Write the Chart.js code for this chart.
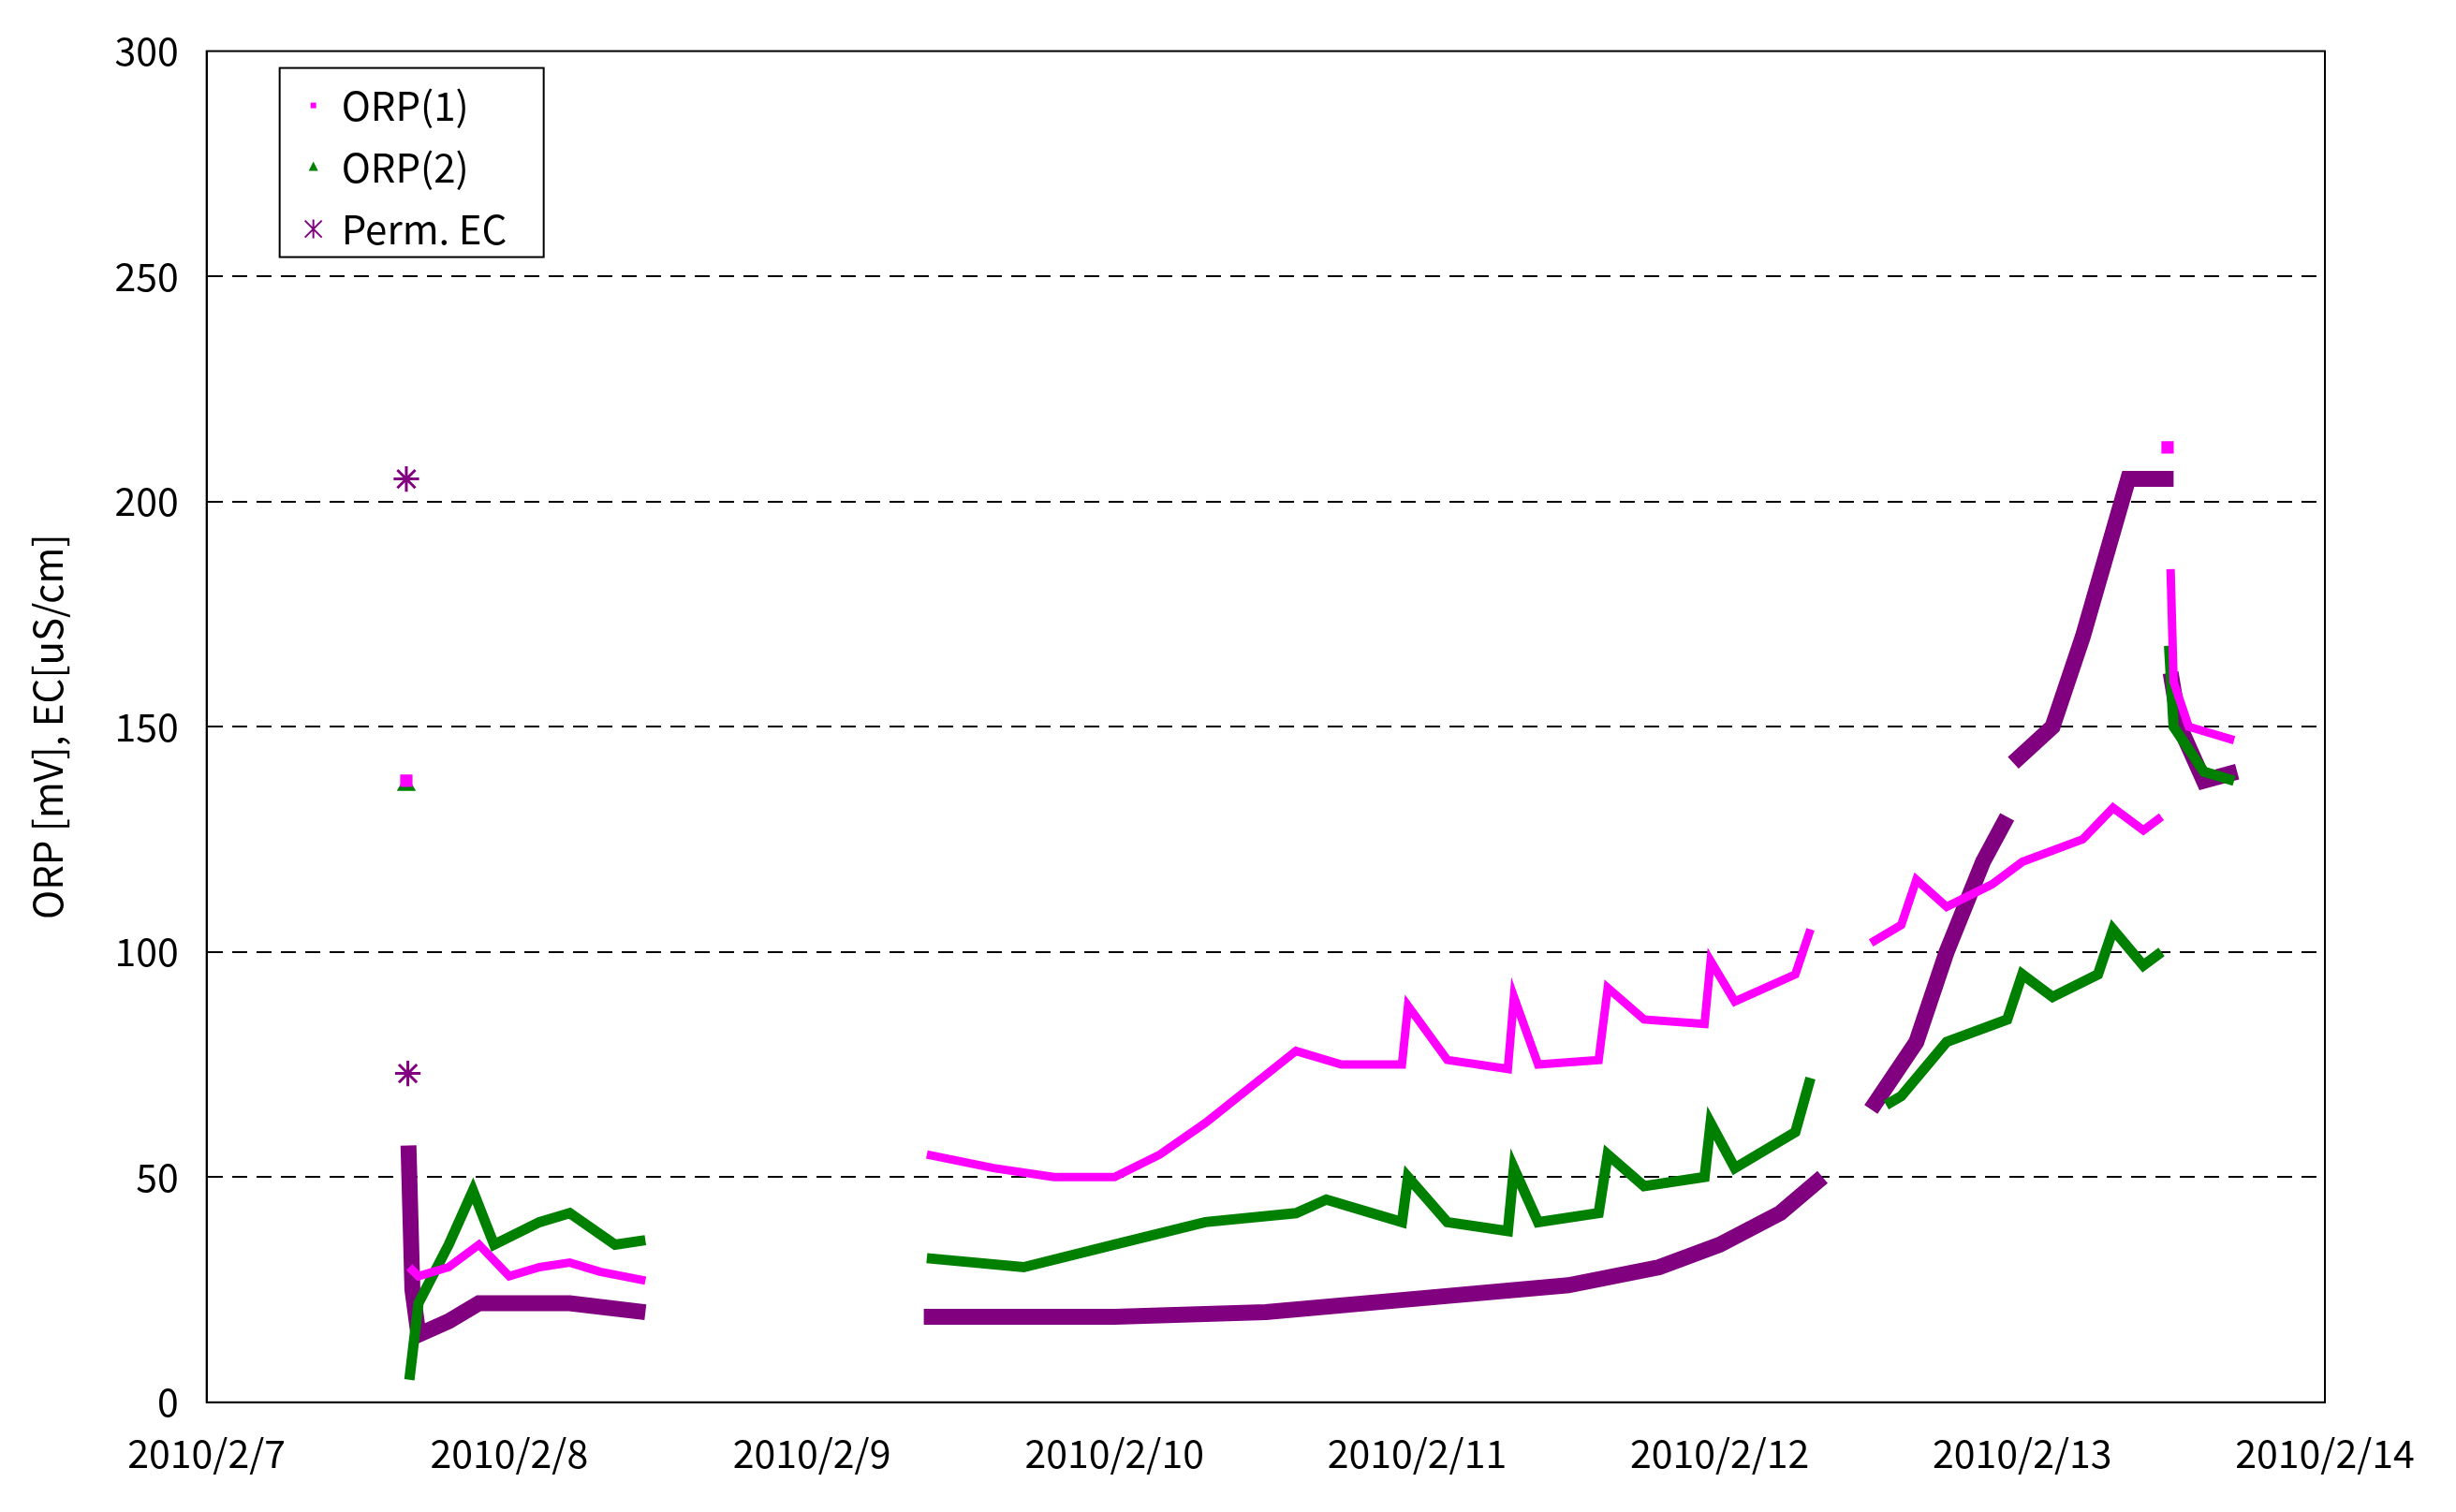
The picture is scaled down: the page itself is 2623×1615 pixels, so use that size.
<!DOCTYPE html>
<html><head><meta charset="utf-8">
<script src="https://cdn.jsdelivr.net/npm/chart.js@4"></script>
<style>html,body{margin:0;background:#fff}#c{width:2623px;height:1615px}</style>
</head><body>
<div id="c"><canvas id="chart"></canvas></div>
<script>
// x = days since 2010/2/7
const dayLabels = ["2010/2/7","2010/2/8","2010/2/9","2010/2/10","2010/2/11","2010/2/12","2010/2/13","2010/2/14"];

const orp1X = [0.66,null,0.67,0.7,0.8,0.9,1.0,1.1,1.2,1.3,1.45,null,
  2.38,2.6,2.8,3.0,3.15,3.3,3.45,3.6,3.75,3.95,3.97,4.1,4.3,4.32,4.4,4.6,4.63,4.75,4.95,4.97,5.05,5.25,5.3,null,
  5.5,5.6,5.65,5.75,5.9,6.0,6.2,6.3,6.4,6.46,null,6.48,null,6.49,6.5,6.55,6.7];
const orp1Y = [138,null,30,28,30,35,28,30,31,29,27,null,
  55,52,50,50,55,62,70,78,75,75,88,76,74,90,75,76,92,85,84,98,89,95,105,null,
  102,106,116,110,115,120,125,132,127,130,null,212,null,185,160,150,147];

const orp2X = [0.66,null,0.67,0.7,0.8,0.88,0.95,1.1,1.2,1.35,1.45,null,
  2.38,2.7,3.0,3.3,3.6,3.7,3.95,3.97,4.1,4.3,4.32,4.4,4.6,4.63,4.75,4.95,4.97,5.05,5.25,5.3,null,
  5.55,5.6,5.75,5.95,6.0,6.1,6.25,6.3,6.4,6.46,null,6.485,6.5,6.6,6.7];
const orp2Y = [137,null,5,22,35,47,35,40,42,35,36,null,
  32,30,35,40,42,45,40,50,40,38,52,40,42,55,48,50,62,52,60,72,null,
  66,68,80,85,95,90,95,105,97,100,null,168,150,140,138];

const ecX = [0.66,null,0.665,null,0.667,0.67,0.68,0.7,0.8,0.9,1.0,1.2,1.45,null,
  2.37,3.0,3.5,4.0,4.5,4.8,5.0,5.2,5.34,null,
  5.5,5.65,5.75,5.87,5.95,null,5.97,6.1,6.2,6.35,6.5,null,6.49,6.52,6.6,6.71];
const ecY = [205,null,73,null,57,50,25,15,18,22,22,22,20,null,
  19,19,20,23,26,30,35,42,50,null,
  65,80,100,120,130,null,142,150,170,205,205,null,162,150,138,140];

const pts = (xs, ys) => xs.map((x, i) => x === null ? {x: NaN, y: null} : {x, y: ys[i]});

const legendPlugin = {
  id: "boxLegend",
  afterDraw(chart) {
    const {ctx, chartArea} = chart;
    const x = chartArea.left + 78, y = chartArea.top + 18, w = 282, h = 202;
    ctx.save();
    ctx.fillStyle = "#fff"; ctx.fillRect(x, y, w, h);
    ctx.strokeStyle = "#000"; ctx.lineWidth = 2; ctx.strokeRect(x, y, w, h);
    ctx.font = "42px 'Noto Sans CJK JP'"; ctx.textBaseline = "middle";
    const items = [["ORP(1)", "#ff00ff", "rect"], ["ORP(2)", "#008000", "tri"], ["Perm. EC", "#800080", "star"]];
    items.forEach((it, i) => {
      const cy = y + 40 + i * 66, cx = x + 36;
      ctx.fillStyle = it[1]; ctx.strokeStyle = it[1];
      if (it[2] === "rect") ctx.fillRect(cx - 3, cy - 3, 6, 6);
      else if (it[2] === "tri") { ctx.beginPath(); ctx.moveTo(cx, cy - 6); ctx.lineTo(cx + 5, cy + 4); ctx.lineTo(cx - 5, cy + 4); ctx.fill(); }
      else { ctx.lineWidth = 2; ctx.beginPath(); ctx.moveTo(cx - 9, cy - 9); ctx.lineTo(cx + 9, cy + 9); ctx.moveTo(cx + 9, cy - 9); ctx.lineTo(cx - 9, cy + 9); ctx.moveTo(cx, cy - 10); ctx.lineTo(cx, cy + 10); ctx.stroke(); }
      ctx.fillStyle = "#000"; ctx.fillText(it[0], x + 66, cy);
    });
    ctx.restore();
  }
};

const ds = (label, data, color, w, style) => ({
  label, data, borderColor: color, backgroundColor: color,
  borderWidth: w, spanGaps: false, showLine: true, tension: 0,
  pointStyle: style,
  pointRadius: c => {
    const d = c.dataset.data, i = c.dataIndex;
    const gap = j => j < 0 || j >= d.length || d[j].y === null;
    return gap(i - 1) && gap(i + 1) ? w * 0.8 : 0;
  },
  pointBorderWidth: 3
});

new Chart(document.getElementById("chart"), {
  type: "scatter",
  data: {
    datasets: [
      ds("ORP(1)", pts(orp1X, orp1Y), "#ff00ff", 9, "rect"),
      ds("ORP(2)", pts(orp2X, orp2Y), "#008000", 11, "triangle"),
      ds("Perm. EC", pts(ecX, ecY), "#800080", 17, "star")
    ]
  },
  options: {
    responsive: true, maintainAspectRatio: false, animation: false,
    devicePixelRatio: 1,
    layout: {padding: {top: 50, right: 140, bottom: 20, left: 10}},
    plugins: {legend: {display: false}, tooltip: {enabled: false}},
    scales: {
      x: {
        type: "linear", min: 0, max: 7,
        grid: {display: false, drawTicks: true, tickLength: 12, color: "#000"},
        border: {color: "#000", width: 2},
        ticks: {stepSize: 1, color: "#000", font: {size: 41, family: "'Noto Sans CJK JP'"}, padding: 18,
          callback: v => dayLabels[v]}
      },
      y: {
        min: 0, max: 300,
        grid: {color: ctx => (ctx.tick.value > 0 && ctx.tick.value < 300) ? "#000" : "transparent", lineWidth: 2, drawTicks: false},
        border: {color: "#000", width: 2, dash: [16, 10]},
        ticks: {stepSize: 50, color: "#000", font: {size: 41, family: "'Noto Sans CJK JP'"}, padding: 30},
        title: {display: true, text: "ORP [mV], EC[uS/cm]", color: "#000", font: {size: 42, family: "'Noto Sans CJK JP'"}, padding: 16}
      }
    }
  },
  plugins: [legendPlugin, {
    id: "frame",
    beforeDatasetsDraw(chart) {
      const {ctx, chartArea: a} = chart;
      ctx.save(); ctx.strokeStyle = "#000"; ctx.lineWidth = 2;
      ctx.strokeRect(a.left, a.top, a.right - a.left, a.bottom - a.top); ctx.restore();
    }
  }]
});
</script>
</body></html>
